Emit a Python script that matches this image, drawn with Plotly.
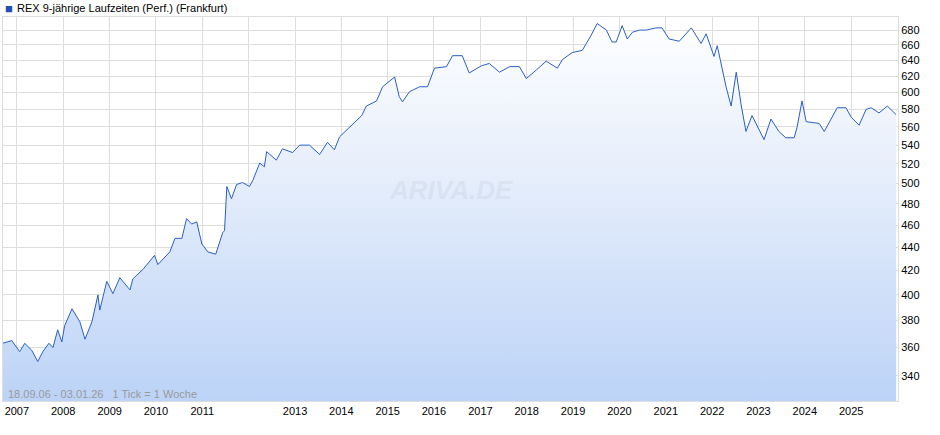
import plotly.graph_objects as go
import pandas as pd

years = [2006.69,2006.89,2007.06,2007.17,2007.32,2007.45,2007.56,2007.69,2007.78,2007.88,2007.97,
 2008.03,2008.19,2008.36,2008.47,2008.62,2008.75,2008.79,2008.94,2009.07,2009.22,2009.44,2009.50,
 2009.72,2009.97,2010.04,2010.30,2010.41,2010.56,2010.66,2010.77,2010.88,2010.99,2011.12,2011.29,
 2011.44,2011.48,2011.53,2011.63,2011.74,2011.87,2012.02,2012.09,2012.24,2012.34,2012.39,2012.60,
 2012.73,2012.95,2013.10,2013.31,2013.53,2013.70,2013.85,2013.96,2014.22,2014.44,2014.54,2014.76,
 2014.89,2015.15,2015.25,2015.32,2015.47,2015.69,2015.86,2016.01,2016.27,2016.40,2016.61,2016.76,
 2017.02,2017.19,2017.41,2017.63,2017.84,2017.99,2018.21,2018.42,2018.66,2018.77,2018.98,2019.20,
 2019.39,2019.52,2019.72,2019.84,2019.93,2020.06,2020.17,2020.28,2020.43,2020.58,2020.79,2020.92,
 2021.07,2021.29,2021.55,2021.76,2021.87,2022.04,2022.11,2022.30,2022.41,2022.52,2022.63,2022.73,
 2022.86,2023.01,2023.12,2023.27,2023.44,2023.59,2023.77,2023.83,2023.94,2024.03,2024.31,2024.42,
 2024.59,2024.70,2024.89,2025.00,2025.17,2025.32,2025.43,2025.60,2025.78,2025.97]
values = [363,365,357,363,358,350,357,363,360,373,364,
 376,389,379,366,379,400,388,411,401,414,404,413,
 421,433,425,436,448,448,466,461,463,443,436,434,
 453,455,497,485,499,501,497,503,521,517,533,524,
 536,532,540,540,530,543,535,549,562,573,584,590,
 607,619,595,589,601,607,607,630,632,646,646,624,
 633,636,625,632,632,617,628,639,630,641,650,653,
 673,689,680,664,664,686,668,677,680,680,683,683,
 668,665,683,662,675,645,659,607,584,625,584,555,
 573,557,546,569,555,548,548,559,590,566,564,555,
 571,582,582,571,562,580,582,576,584,574]
year_ticks = list(range(2007, 2026))
tick_text = [str(y) if y != 2012 else "" for y in year_ticks]
title = "REX 9-jährige Laufzeiten (Perf.) (Frankfurt)"
info = "18.09.06 - 03.01.26   1 Tick = 1 Woche"

def todate(y):
    yr = int(y)
    start = pd.Timestamp(yr, 1, 1)
    return start + pd.Timedelta(days=(y - yr) * 365.25)

dates = [todate(y) for y in years]
ymin, ymax = 323.4, 698

fig = go.Figure()
fig.add_trace(go.Scatter(x=[dates[0], dates[-1]], y=[ymin, ymin], mode="lines",
                         line=dict(width=0), showlegend=False, hoverinfo="skip"))
fig.add_trace(go.Scatter(x=dates, y=values, mode="lines", fill="tonexty",
                         line=dict(color="#2a5fc4", width=1),
                         fillgradient=dict(type="vertical",
                                           colorscale=[[0, "#bcd3f7"], [0.6, "#e6eefb"], [1, "#fdfeff"]]),
                         showlegend=False))
fig.update_layout(
    width=940, height=435, margin=dict(l=3, r=42, t=17, b=34),
    paper_bgcolor="white", plot_bgcolor="white",
    font=dict(family="Liberation Sans, Arial", size=11, color="#000"),
    xaxis=dict(type="date", range=[todate(2006.70), todate(2026.01)],
               tickvals=[pd.Timestamp(y, 1, 1) for y in year_ticks], ticktext=tick_text,
               showgrid=True, gridcolor="#dddddd", zeroline=False, ticks="",
               showline=True, linecolor="#dddddd", mirror=True, automargin=False),
    yaxis=dict(type="log", range=[2.5097, 2.8439], side="right",
               tickvals=list(range(340, 700, 20)), ticktext=[str(v) for v in range(340, 700, 20)],
               showgrid=True, gridcolor="#dddddd", zeroline=False, ticks="",
               showline=True, linecolor="#dddddd", mirror=True, automargin=False),
    annotations=[
        dict(text="■ " , x=0, y=1, xref="paper", yref="paper", xanchor="left", yanchor="bottom",
             yshift=-1, showarrow=False, font=dict(color="#1f4fb4", size=13)),
        dict(text=title, x=0, y=1, xref="paper", yref="paper", xanchor="left", yanchor="bottom",
             xshift=12, yshift=1, showarrow=False, font=dict(size=11, color="#000")),
        dict(text=info, x=0, y=0, xref="paper", yref="paper", xanchor="left", yanchor="bottom",
             xshift=3, yshift=-1, showarrow=False, font=dict(size=11, color="#999999")),
        dict(text="<b><i>ARIVA.DE</i></b>", x=0.5, y=0.55, xref="paper", yref="paper",
             showarrow=False, font=dict(size=26, color="rgba(150,160,180,0.15)")),
    ],
)
fig.write_html("out.html", config={"displayModeBar": False},
               post_script="document.body.style.margin='0';")
